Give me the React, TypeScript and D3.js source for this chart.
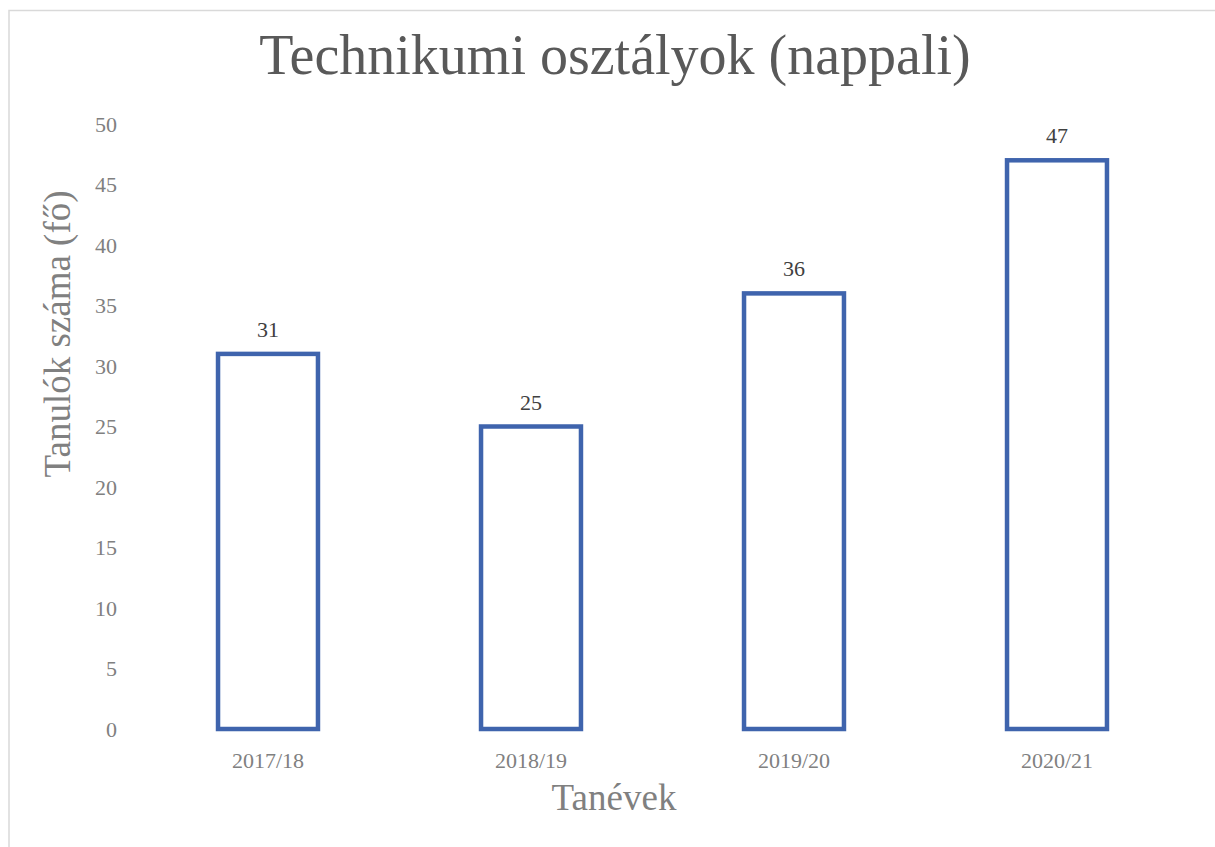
import * as React from "react";
import * as d3 from "d3";

const years = ["2017/18", "2018/19", "2019/20", "2020/21"];
const students = [31, 25, 36, 47];
const yTicks = [0, 5, 10, 15, 20, 25, 30, 35, 40, 45, 50];

const title = "Technikumi osztályok (nappali)";
const yTitle = "Tanulók száma (fő)";
const xTitle = "Tanévek";

const width = 1215;
const height = 847;
const font = "'Liberation Serif', 'Times New Roman', serif";

export default function App() {
  const x = d3
    .scaleBand<string>()
    .domain(years)
    .range([136.5, 1188.5])
    .paddingInner(0.62)
    .paddingOuter(0.31);

  const y = d3.scaleLinear().domain([0, 50]).range([729, 124]);

  return (
    <svg
      width={width}
      height={height}
      style={{ position: "absolute", left: 0, top: 0, background: "#fff" }}
    >
      <rect x={9} y={10.5} width={1230} height={860} fill="#fff" stroke="#d9d9d9" strokeWidth={1.5} />

      <text x={615} y={74} textAnchor="middle" fontFamily={font} fontSize={56} fill="#595959">
        {title}
      </text>

      {yTicks.map((t) => (
        <text
          key={"tick" + t}
          x={117}
          y={y(t)}
          dy="0.35em"
          textAnchor="end"
          fontFamily={font}
          fontSize={22}
          fill="#808080"
        >
          {t}
        </text>
      ))}

      {years.map((yr, i) => {
        const v = students[i];
        const bx = x(yr) as number;
        const bw = x.bandwidth();
        return (
          <g key={yr}>
            <rect
              x={bx}
              y={y(v)}
              width={bw}
              height={y(0) - y(v)}
              fill="#fff"
              stroke="#3f64ad"
              strokeWidth={4.5}
            />
            <text
              x={bx + bw / 2}
              y={y(v) - 17}
              textAnchor="middle"
              fontFamily={font}
              fontSize={22}
              fill="#404040"
            >
              {v}
            </text>
            <text
              x={bx + bw / 2}
              y={768}
              textAnchor="middle"
              fontFamily={font}
              fontSize={22}
              fill="#808080"
            >
              {yr}
            </text>
          </g>
        );
      })}

      <text
        transform="translate(70, 334) rotate(-90)"
        textAnchor="middle"
        fontFamily={font}
        fontSize={37}
        fill="#808080"
      >
        {yTitle}
      </text>

      <text x={614} y={810} textAnchor="middle" fontFamily={font} fontSize={37} fill="#808080">
        {xTitle}
      </text>
    </svg>
  );
}
